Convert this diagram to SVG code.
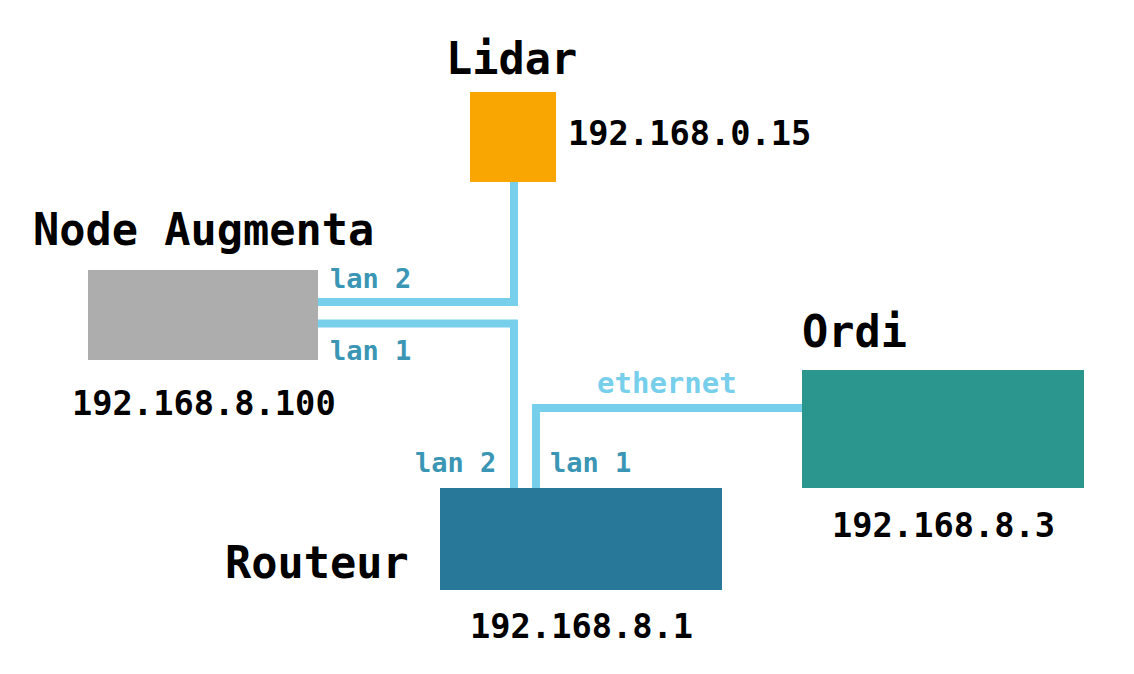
<svg xmlns="http://www.w3.org/2000/svg" width="1134" height="674" viewBox="0 0 1134 674">
<style>
.title{font-family:"DejaVu Sans Mono","Liberation Mono",monospace;font-size:43.6px;font-weight:bold;fill:#000}
.ip{font-family:"DejaVu Sans Mono","Liberation Mono",monospace;font-size:33.7px;font-weight:bold;fill:#000}
.lan{font-family:"DejaVu Sans Mono","Liberation Mono",monospace;font-size:27px;font-weight:bold;fill:#3A96B4}
.eth{font-family:"DejaVu Sans Mono","Liberation Mono",monospace;font-size:29px;font-weight:bold;fill:#77CFEB}
.wire{fill:none;stroke:#77CFEB;stroke-width:8;stroke-linejoin:miter;stroke-linecap:butt}
</style>
<rect width="1134" height="674" fill="#fff"/>
<g id="connectors">
<polyline class="wire" points="514,182 514,302 318,302"/>
<polyline class="wire" points="318,323.5 514,323.5 514,488"/>
<polyline class="wire" points="536,488 536,408 802,408"/>
<text class="lan" x="330" y="288">lan 2</text>
<text class="lan" x="330" y="360">lan 1</text>
<text class="lan" x="415" y="472">lan 2</text>
<text class="lan" x="550" y="472">lan 1</text>
<text class="eth" x="597" y="393">ethernet</text>
</g>
<g id="lidar">
<rect x="470" y="92" width="86" height="90" fill="#F9A602"/>
<text class="title" x="446" y="74">Lidar</text>
<text class="ip" x="568" y="145">192.168.0.15</text>
</g>
<g id="node-augmenta">
<rect x="88" y="270" width="230" height="90" fill="#ADADAD"/>
<text class="title" x="33" y="245">Node Augmenta</text>
<text class="ip" x="72" y="415">192.168.8.100</text>
</g>
<g id="ordi">
<rect x="802" y="370" width="282" height="118" fill="#2A968E"/>
<text class="title" x="802" y="347">Ordi</text>
<text class="ip" x="832" y="537">192.168.8.3</text>
</g>
<g id="routeur">
<rect x="440" y="488" width="282" height="102" fill="#287899"/>
<text class="title" x="225" y="578">Routeur</text>
<text class="ip" x="470" y="638">192.168.8.1</text>
</g>
</svg>
